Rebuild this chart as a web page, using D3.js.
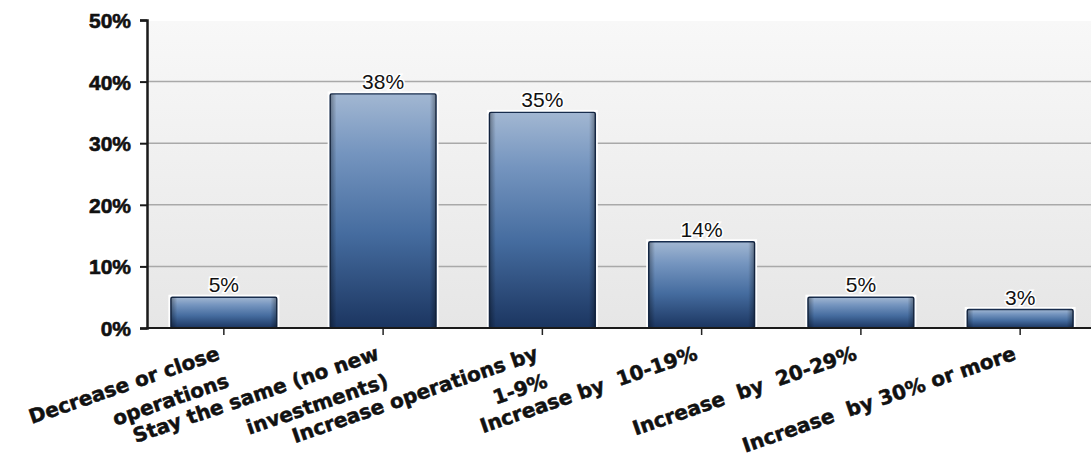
<!DOCTYPE html>
<html>
<head>
<meta charset="utf-8">
<script src="https://cdn.jsdelivr.net/npm/d3@7"></script>
<style>
  html, body { margin: 0; padding: 0; background: #ffffff; }
  svg { display: block; }
</style>
</head>
<body>
<svg id="chart" width="1091" height="461"></svg>
<script>
// Survey answers: planned change in operations
const categories = [
  "Decrease or close\noperations",
  "Stay the same (no new\ninvestments)",
  "Increase operations by\n1-9%",
  "Increase by  10-19%",
  "Increase  by  20-29%",
  "Increase  by 30% or more"
];
const shares = [5, 38, 35, 14, 5, 3];
const yTicks = [0, 10, 20, 30, 40, 50];

const svg = d3.select("#chart");
const W = 1091, H = 461;
const plot = { left: 147, right: 1097, top: 20, bottom: 328 };

const x = d3.scaleBand()
  .domain(categories)
  .range([plot.left, plot.right])
  .paddingInner(0.335)
  .paddingOuter(0.15);

const y = d3.scaleLinear()
  .domain([0, 50])
  .range([plot.bottom, plot.top]);

const defs = svg.append("defs");

// soft gray plot background
const bg = defs.append("linearGradient").attr("id", "bgGrad")
  .attr("x1", 0).attr("y1", 0).attr("x2", 0).attr("y2", 1);
bg.append("stop").attr("offset", "0%").attr("stop-color", "#f8f8f8");
bg.append("stop").attr("offset", "100%").attr("stop-color", "#e6e6e6");

// bar fill: pale steel blue on top fading into deep navy
const barGrad = defs.append("linearGradient").attr("id", "barGrad")
  .attr("x1", 0).attr("y1", 0).attr("x2", 0).attr("y2", 1);
barGrad.append("stop").attr("offset", "0%").attr("stop-color", "#a2b7d2");
barGrad.append("stop").attr("offset", "25%").attr("stop-color", "#7595bf");
barGrad.append("stop").attr("offset", "60%").attr("stop-color", "#456c9f");
barGrad.append("stop").attr("offset", "100%").attr("stop-color", "#1b3560");

// darker side edges for a slight cylindrical look
const edgeGrad = defs.append("linearGradient").attr("id", "edgeGrad")
  .attr("x1", 0).attr("y1", 0).attr("x2", 1).attr("y2", 0);
edgeGrad.append("stop").attr("offset", "0%").attr("stop-color", "#000").attr("stop-opacity", 0.35);
edgeGrad.append("stop").attr("offset", "6%").attr("stop-color", "#000").attr("stop-opacity", 0.0);
edgeGrad.append("stop").attr("offset", "94%").attr("stop-color", "#000").attr("stop-opacity", 0.0);
edgeGrad.append("stop").attr("offset", "100%").attr("stop-color", "#000").attr("stop-opacity", 0.35);

svg.append("rect")
  .attr("x", plot.left + 1).attr("y", plot.top + 1)
  .attr("width", plot.right - plot.left + 10).attr("height", plot.bottom - plot.top - 1)
  .attr("fill", "url(#bgGrad)");

// horizontal grid lines
svg.append("g")
  .selectAll("line")
  .data(yTicks.filter(t => t > 0 && t < 50))
  .join("line")
  .attr("x1", plot.left).attr("x2", W)
  .attr("y1", d => y(d)).attr("y2", d => y(d))
  .attr("stroke", "#a9a9a9")
  .attr("stroke-width", 1.5);

// bars
const bars = svg.append("g");
bars.selectAll("rect.halo")
  .data(shares)
  .join("rect")
  .attr("class", "halo")
  .attr("x", (d, i) => x(categories[i]))
  .attr("y", d => y(d))
  .attr("width", x.bandwidth())
  .attr("height", d => y(0) - y(d))
  .attr("fill", "none")
  .attr("stroke", "#ffffff")
  .attr("stroke-width", 5);

bars.selectAll("rect.bar")
  .data(shares)
  .join("rect")
  .attr("class", "bar")
  .attr("x", (d, i) => x(categories[i]))
  .attr("y", d => y(d))
  .attr("width", x.bandwidth())
  .attr("height", d => y(0) - y(d))
  .attr("rx", 1.5)
  .attr("fill", "url(#barGrad)")
  .attr("stroke", "#172c4d")
  .attr("stroke-width", 1.4);

bars.selectAll("rect.edge")
  .data(shares)
  .join("rect")
  .attr("class", "edge")
  .attr("x", (d, i) => x(categories[i]))
  .attr("y", d => y(d))
  .attr("width", x.bandwidth())
  .attr("height", d => y(0) - y(d))
  .attr("fill", "url(#edgeGrad)");

// value labels above bars
svg.append("g")
  .selectAll("text")
  .data(shares)
  .join("text")
  .attr("x", (d, i) => x(categories[i]) + x.bandwidth() / 2)
  .attr("y", d => y(d) - 5)
  .attr("text-anchor", "middle")
  .attr("font-family", "'Liberation Sans', Arial, sans-serif")
  .attr("font-size", 21)
  .attr("fill", "#111")
  .attr("stroke", "#ffffff")
  .attr("stroke-width", 3)
  .attr("paint-order", "stroke")
  .text(d => d + "%");

// y axis
const yAxis = svg.append("g")
  .attr("transform", `translate(${plot.left},0)`)
  .call(d3.axisLeft(y).tickValues(yTicks).tickFormat(d => d + "%").tickSize(7).tickPadding(9));
yAxis.select(".domain").attr("stroke", "#1a1a1a").attr("stroke-width", 2.5);
yAxis.selectAll(".tick line").attr("stroke", "#1a1a1a").attr("stroke-width", 2);
yAxis.selectAll(".tick text")
  .attr("font-family", "'Liberation Sans', Arial, sans-serif")
  .attr("font-weight", "bold")
  .attr("font-size", 21)
  .attr("fill", "#111")
  .attr("stroke", "#111")
  .attr("stroke-width", 0.6)
  .attr("dy", "0.36em");

// x axis
const xAxis = svg.append("g")
  .attr("transform", `translate(0,${plot.bottom})`)
  .call(d3.axisBottom(x).tickSize(7).tickFormat(""));
xAxis.select(".domain").remove();
xAxis.selectAll(".tick line").attr("stroke", "#222").attr("stroke-width", 1.5);
svg.append("line")
  .attr("x1", plot.left - 1).attr("x2", W)
  .attr("y1", plot.bottom).attr("y2", plot.bottom)
  .attr("stroke", "#1a1a1a").attr("stroke-width", 2);

// rotated, right-aligned category labels
const labelG = svg.append("g");
categories.forEach(cat => {
  const cx = x(cat) + x.bandwidth() / 2;
  const t = labelG.append("text")
    .attr("transform", `translate(${cx - 3},359) rotate(-19)`)
    .attr("text-anchor", "end")
    .attr("font-family", "'DejaVu Sans', Verdana, sans-serif")
    .attr("font-weight", "bold")
    .attr("font-size", 20)
    .attr("fill", "#111")
    .attr("stroke", "#111")
    .attr("stroke-width", 0.5)
    .style("white-space", "pre");
  cat.split("\n").forEach((line, i) => {
    t.append("tspan")
      .attr("x", 0)
      .attr("dy", i === 0 ? 0 : 29)
      .text(line);
  });
});
</script>
</body>
</html>
